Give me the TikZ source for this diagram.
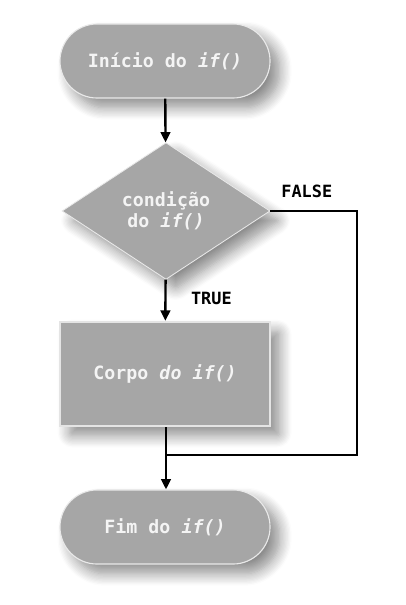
\documentclass[tikz,border=0pt]{standalone}
\usepackage{fontspec}
\setmonofont{DejaVu Sans Mono}
\usetikzlibrary{positioning,arrows.meta,shapes.geometric,shapes.misc,shadows.blur}
\definecolor{boxgray}{HTML}{A6A6A6}
\definecolor{boxtext}{HTML}{F4F4F4}

\begin{document}
\begin{tikzpicture}[
  x=0.025cm, y=-0.025cm,
  font=\fontsize{13}{15}\selectfont\ttfamily\bfseries,
  >={Triangle[length=2.6mm, width=2.4mm]},
  shade/.style={blur shadow={shadow xshift=2.4mm, shadow yshift=-2.4mm, shadow blur radius=3mm,
                shadow blur steps=10, shadow blur extra rounding=2pt, shadow opacity=45}},
  term/.style={rounded rectangle, fill=boxgray, draw=white!75!boxgray, line width=0.8pt,
               text=boxtext, minimum width=5.25cm, minimum height=1.85cm, inner sep=0pt, shade},
  dec/.style={diamond, aspect=1.52, fill=boxgray, draw=white!75!boxgray, line width=0.6pt,
              text=boxtext, align=center, minimum width=5.2cm, minimum height=3.42cm,
              inner sep=0pt, shade},
  proc/.style={rectangle, fill=boxgray, draw=white!70!boxgray, line width=1.6pt,
               text=boxtext, minimum width=5.25cm, minimum height=2.6cm, inner sep=0pt, shade},
  flow/.style={line width=1.7pt, draw=black},
  lbl/.style={font=\fontsize{12}{14}\selectfont\ttfamily\bfseries, text=black},
]
\useasboundingbox (0,0) rectangle (406,605);

% ---- main column ----
\node[term] (start) at (165,61)  {Início do \textit{if()}};
\node[dec]  (cond)  at (166,211) {condição\\do \textit{if()}};
\node[proc] (body)  at (165,374) {Corpo \textit{do if()}};
\node[term] (stop)  at (165,527) {Fim do \textit{if()}};

% ---- helper points for the FALSE branch ----
\coordinate (fr) at (357,211);
\coordinate (fb) at (357,455);
\coordinate (join) at (166,455);

% ---- connectors ----
\draw[flow,->] (start) -- (cond);
\draw[flow,->] (cond) -- node[lbl, right=14pt, pos=0.45]{TRUE} (body);
\draw[flow] (cond.east) -- node[lbl, above=5pt, pos=0.42]{FALSE} (fr) -- (fb) -- (join);
\draw[flow,->] (body.south -| join) -- (stop.north -| join);
\end{tikzpicture}
\end{document}
